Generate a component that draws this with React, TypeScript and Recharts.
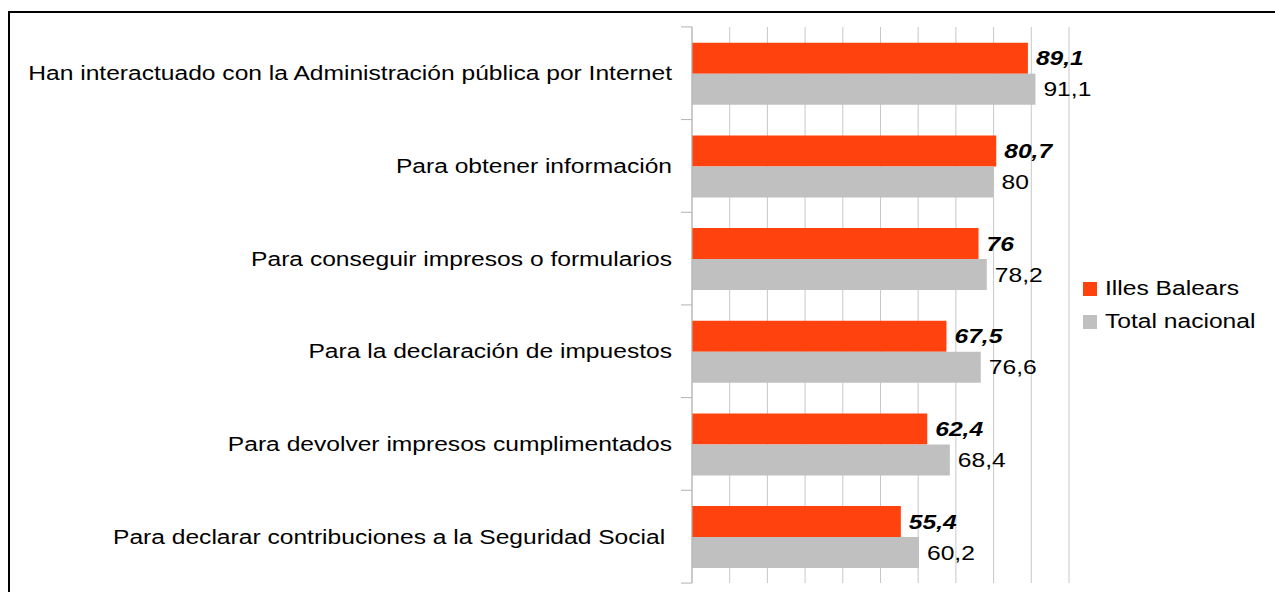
import React from "react";
import { BarChart, Bar, XAxis, YAxis, CartesianGrid, LabelList, Legend } from "recharts";

const categories = [
  "Han interactuado con la Administración pública por Internet",
  "Para obtener información",
  "Para conseguir impresos o formularios",
  "Para la declaración de impuestos",
  "Para devolver impresos cumplimentados",
  "Para declarar contribuciones a la Seguridad Social ",
];
const illesBalears = [89.1, 80.7, 76, 67.5, 62.4, 55.4];
const totalNacional = [91.1, 80, 78.2, 76.6, 68.4, 60.2];
const xTicks = [0, 10, 20, 30, 40, 50, 60, 70, 80, 90, 100];
const seriesNames = ["Illes Balears", "Total nacional"];
const seriesColors = ["#ff420e", "#c0c0c0"];

const data = categories.map((name, i) => ({
  name,
  illes: illesBalears[i],
  total: totalNacional[i],
}));

const W = 1275;
const H = 592;
const M_TOP = 27;
const M_BOTTOM = 8;
const M_RIGHT = 206;
const YAXIS_W = 692;
const BAND = (H - M_TOP - M_BOTTOM) / categories.length;
const SX = 1.23;
const FONT = "'Liberation Sans', Arial, sans-serif";

const fmt = (v: number) => String(v).replace(".", ",");

const EmptyTick = () => <g />;

const CategoryTick = (props: any) => {
  const { y, payload, index } = props;
  const ax = YAXIS_W;
  return (
    <g>
      <line x1={ax - 11} x2={ax} y1={y - BAND / 2} y2={y - BAND / 2} stroke="#b3b3b3" strokeWidth={1} />
      {index === categories.length - 1 && (
        <line x1={ax - 11} x2={ax} y1={y + BAND / 2} y2={y + BAND / 2} stroke="#b3b3b3" strokeWidth={1} />
      )}
      <text
        transform={`translate(${ax - 20}, ${y}) scale(${SX}, 1)`}
        x={0}
        y={0}
        dy="0.35em"
        textAnchor="end"
        fontSize={20}
        fontFamily={FONT}
        fill="#000"
        style={{ whiteSpace: "pre" }}
      >
        {payload.value}
      </text>
    </g>
  );
};

const makeLabel = (bold: boolean) => (props: any) => {
  const { x, y, width, height, value } = props;
  const lx = x + width + 8;
  const ly = y + height / 2;
  return (
    <text
      transform={`translate(${lx}, ${ly}) scale(${SX}, 1)`}
      x={0}
      y={0}
      dy="0.35em"
      textAnchor="start"
      fontSize={20}
      fontFamily={FONT}
      fontWeight={bold ? "bold" : "normal"}
      fontStyle={bold ? "italic" : "normal"}
      fill="#000"
    >
      {fmt(value)}
    </text>
  );
};

const LegendContent = () => (
  <div style={{ position: "absolute", left: 1083, top: 272, fontFamily: FONT }}>
    {seriesNames.map((n, i) => (
      <div key={n} style={{ height: 33, display: "flex", alignItems: "center", position: "relative" }}>
        <div style={{ width: 14, height: 14, background: seriesColors[i] }} />
        <div
          style={{
            marginLeft: 8,
            fontSize: 20,
            color: "#000",
            transform: `scaleX(${SX})`,
            transformOrigin: "left center",
            whiteSpace: "nowrap",
          }}
        >
          {n}
        </div>
      </div>
    ))}
  </div>
);

export default function App() {
  return (
    <div style={{ position: "absolute", left: 0, top: 0, width: W, height: H, background: "#fff", overflow: "hidden" }}>
      <div
        style={{
          position: "absolute",
          left: 8,
          top: 11,
          width: W + 10,
          height: H + 10,
          borderTop: "2px solid #000",
          borderLeft: "2px solid #000",
          boxSizing: "border-box",
        }}
      />
      <div style={{ position: "absolute", left: 0, top: 0 }}>
        <BarChart
          width={W}
          height={H}
          data={data}
          layout="vertical"
          margin={{ top: M_TOP, right: M_RIGHT, bottom: M_BOTTOM, left: 0 }}
          barCategoryGap="17%"
          barGap={0}
        >
          <CartesianGrid horizontal={false} vertical={true} stroke="#c8c8c8" strokeWidth={1} />
          <XAxis
            type="number"
            domain={[0, 100]}
            ticks={xTicks}
            interval={0}
            height={1}
            tick={EmptyTick}
            axisLine={false}
            tickLine={false}
          />
          <YAxis
            type="category"
            dataKey="name"
            width={YAXIS_W}
            axisLine={{ stroke: "#b3b3b3" }}
            tickLine={false}
            tick={<CategoryTick />}
            interval={0}
          />
          <Legend content={<LegendContent />} wrapperStyle={{ position: "absolute", left: 0, top: 0, width: 0, height: 0 }} />
          <Bar dataKey="illes" name={seriesNames[0]} fill={seriesColors[0]} isAnimationActive={false}>
            <LabelList dataKey="illes" content={makeLabel(true)} />
          </Bar>
          <Bar dataKey="total" name={seriesNames[1]} fill={seriesColors[1]} isAnimationActive={false}>
            <LabelList dataKey="total" content={makeLabel(false)} />
          </Bar>
        </BarChart>
      </div>
    </div>
  );
}
